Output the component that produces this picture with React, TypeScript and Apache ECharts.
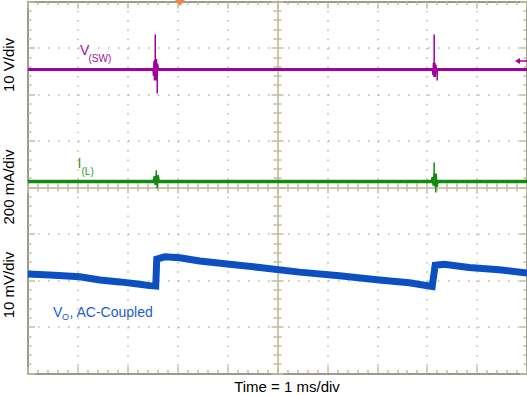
import React, { useEffect, useRef } from "react";
import * as echarts from "echarts";

// Time in ms (relative to screen centre), values in screen divisions
const voTime = [-5, -4.56, -3.96, -3.56, -3.16, -2.76, -2.56, -2.44, -2.42, -2.26, -1.96, -1.56, -0.96, -0.36, 0.44, 1.24, 2.04, 2.64, 3.1, 3.16, 3.34, 3.84, 4.44, 5];
const voDiv = [-1.86, -1.88, -1.92, -1.99, -2.03, -2.08, -2.11, -2.12, -1.54, -1.49, -1.51, -1.58, -1.65, -1.72, -1.82, -1.9, -1.99, -2.05, -2.13, -1.67, -1.65, -1.72, -1.77, -1.84];

const vswTime = [-5, -2.48, -2.47, -2.46, -2.45, -2.44, -2.43, -2.42, -2.4, 3.12, 3.13, 3.14, 3.15, 3.16, 3.17, 3.19, 5];
const vswDiv = [2.54, 2.54, 2.4, 2.72, 2.3, 2.76, 2.36, 2.66, 2.54, 2.54, 2.42, 2.68, 2.38, 2.64, 2.46, 2.54, 2.54];
const vswSpikeTime = [-2.45, -2.45, -2.45, -2.41, -2.41, -2.41, 3.14, 3.14, 3.14, 3.2, 3.2];
const vswSpikeDiv = [2.54, 3.29, 2.54, 2.54, 2.02, 2.54, 2.54, 3.29, 2.54, 2.54, 2.3];

const ilTime = [-5, -2.47, -2.45, -2.43, -2.41, -2.39, 3.1, 3.12, 3.14, 3.16, 3.18, 3.2, 5];
const ilDiv = [0.13, 0.13, 0.24, 0.05, 0.26, 0.13, 0.13, 0.22, 0.04, 0.3, 0.02, 0.13, 0.13];
const ilSpikeTime = [-2.43, -2.43, -2.43, -2.41, -2.41, -2.41, 3.14, 3.14, 3.14, 3.17, 3.17];
const ilSpikeDiv = [0.13, 0.37, 0.13, 0.13, -0.02, 0.13, 0.13, 0.54, 0.13, 0.13, -0.11];

const pairs = (t: number[], v: number[]) => t.map((x, i) => [x, v[i]]);

const tan = "#c2bd9f";
const dot = "#bdb8a0";
const borderCol = "#7a7a6c";
const centerCol = "#cdc8ad";
const font = "'Liberation Sans', Arial, sans-serif";

export default function App() {
  const ref = useRef<HTMLDivElement>(null);
  useEffect(() => {
    document.body.style.margin = "0";
    const chart = echarts.init(ref.current!, null, { renderer: "svg" });
    const baseX = {
      type: "value" as const,
      min: -5,
      max: 5,
      interval: 1,
      axisLabel: { show: false },
      splitLine: { show: false },
    };
    const baseY = {
      type: "value" as const,
      min: -4,
      max: 4,
      interval: 1,
      axisLabel: { show: false },
      splitLine: { show: false },
    };
    const edgeTick = (inside: boolean) => ({
      axisTick: { show: true, inside, length: 7, lineStyle: { color: tan, width: 1.5 } },
      minorTick: { show: true, splitNumber: 5, length: 3.5, lineStyle: { color: tan, width: 1.5 } },
    });
    const centerTick = (inside: boolean) => ({
      axisTick: { show: true, inside, length: 6, lineStyle: { color: tan, width: 1.5 } },
      minorTick: { show: true, splitNumber: 5, length: 4, lineStyle: { color: tan, width: 1.5 } },
    });
    const textG = (text: string, x: number, y: number, size: number, color: string, extra: any = {}) => ({
      type: "text",
      x,
      y,
      ...extra,
      style: { text, fill: color, font: `${size}px ${font}`, verticalAlign: "middle", align: extra.align || "left" },
    });
    chart.setOption({
      animation: false,
      grid: { left: 28, top: 1.5, width: 500, height: 372 },
      xAxis: [
        {
          ...baseX,
          position: "bottom",
          axisLine: { show: true, onZero: false, lineStyle: { color: borderCol, width: 1.5 } },
          ...edgeTick(true),
          splitLine: { show: true, lineStyle: { color: dot, width: 1.5, type: [1.5, 7.8] } },
        },
        {
          ...baseX,
          position: "top",
          axisLine: { show: true, onZero: false, lineStyle: { color: borderCol, width: 1.5 } },
          ...edgeTick(true),
        },
        {
          ...baseX,
          position: "bottom",
          axisLine: { show: true, onZero: true, onZeroAxisIndex: 0, lineStyle: { color: centerCol, width: 2 } },
          ...centerTick(true),
        },
        {
          ...baseX,
          position: "bottom",
          axisLine: { show: true, onZero: true, onZeroAxisIndex: 0, lineStyle: { color: centerCol, width: 2 } },
          ...centerTick(false),
        },
      ],
      yAxis: [
        {
          ...baseY,
          position: "left",
          axisLine: { show: true, onZero: false, lineStyle: { color: borderCol, width: 1.5 } },
          ...edgeTick(true),
          splitLine: { show: true, lineStyle: { color: dot, width: 1.5, type: [1.5, 8.5] } },
        },
        {
          ...baseY,
          position: "right",
          axisLine: { show: true, onZero: false, lineStyle: { color: borderCol, width: 1.5 } },
          ...edgeTick(true),
        },
        {
          ...baseY,
          position: "left",
          axisLine: { show: true, onZero: true, onZeroAxisIndex: 0, lineStyle: { color: centerCol, width: 2 } },
          ...centerTick(true),
        },
        {
          ...baseY,
          position: "left",
          axisLine: { show: true, onZero: true, onZeroAxisIndex: 0, lineStyle: { color: centerCol, width: 2 } },
          ...centerTick(false),
        },
      ],
      series: [
        {
          type: "line",
          name: "VO",
          data: pairs(voTime, voDiv),
          showSymbol: false,
          lineStyle: { color: "#0b4fc0", width: 7, join: "miter" },
          z: 3,
        },
        {
          type: "line",
          name: "IL",
          data: pairs(ilTime, ilDiv),
          showSymbol: false,
          lineStyle: { color: "#138a13", width: 3.5 },
          z: 4,
        },
        {
          type: "line",
          name: "IL spikes",
          data: pairs(ilSpikeTime, ilSpikeDiv),
          showSymbol: false,
          lineStyle: { color: "#138a13", width: 1.5 },
          z: 4,
        },
        {
          type: "line",
          name: "VSW",
          data: pairs(vswTime, vswDiv),
          showSymbol: false,
          lineStyle: { color: "#a2009c", width: 3 },
          z: 5,
        },
        {
          type: "line",
          name: "VSW spikes",
          data: pairs(vswSpikeTime, vswSpikeDiv),
          showSymbol: false,
          lineStyle: { color: "#a2009c", width: 1.5 },
          z: 5,
        },
      ],
      graphic: [
        textG("10 V/div", 8, 65, 15, "#000", { rotation: Math.PI / 2, align: "center" }),
        textG("200 mA/div", 8, 187, 15, "#000", { rotation: Math.PI / 2, align: "center" }),
        textG("10 mV/div", 8, 285, 15, "#000", { rotation: Math.PI / 2, align: "center" }),
        textG("Time = 1 ms/div", 287, 386, 15, "#000", { align: "center" }),
        textG("V", 80, 50, 14, "#a2109c"),
        textG("(SW)", 88.5, 58, 10, "#a2109c"),
        textG("I", 77.5, 163, 14, "#279627"),
        textG("(L)", 81.5, 171, 10, "#279627"),
        textG("V", 53, 312, 14, "#1a5ec8"),
        textG("O", 62, 316.5, 9, "#1a5ec8"),
        textG(", AC-Coupled", 69.5, 312, 14, "#1a5ec8"),
        {
          type: "polygon",
          shape: { points: [[175, 0], [185, 0], [180, 6]] },
          style: { fill: "#f0874a" },
          z: 10,
        },
        {
          type: "polygon",
          shape: { points: [[515, 61], [520, 58], [520, 64]] },
          style: { fill: "#a2009c" },
          z: 10,
        },
        {
          type: "line",
          shape: { x1: 519, y1: 61, x2: 527, y2: 61 },
          style: { stroke: "#a2009c", lineWidth: 1.5 },
          z: 10,
        },
      ],
    });
    return () => chart.dispose();
  }, []);
  return <div ref={ref} style={{ width: 527, height: 395 }} />;
}
